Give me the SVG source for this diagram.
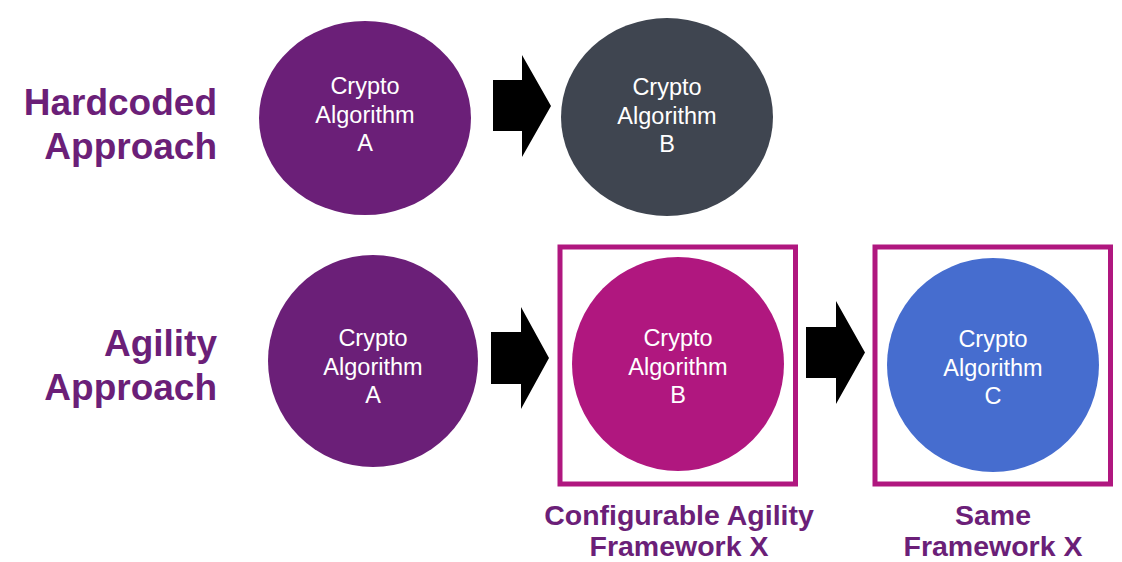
<svg xmlns="http://www.w3.org/2000/svg" width="1122" height="562" viewBox="0 0 1122 562">
  <style>
    .lbl { font-family: "Liberation Sans", Arial, sans-serif; font-weight: bold; fill: #6B1F78; }
    .side { font-size: 37px; text-anchor: end; }
    .bottom { font-size: 28.5px; text-anchor: middle; }
    .ct { font-family: "Liberation Sans", Arial, sans-serif; font-size: 23.5px; fill: #FFFFFF; text-anchor: middle; }
    .frame { fill: none; stroke: #B0177F; stroke-width: 5; }
    .arrow { fill: #000000; }
  </style>
  <rect width="1122" height="562" fill="#FFFFFF"/>

  <g id="label-hardcoded">
    <text class="lbl side" x="217" y="115">Hardcoded</text>
    <text class="lbl side" x="217" y="159">Approach</text>
  </g>
  <g id="label-agility">
    <text class="lbl side" x="217" y="356">Agility</text>
    <text class="lbl side" x="217" y="400">Approach</text>
  </g>

  <g id="frame-x">
    <rect class="frame" x="560" y="247" width="235.5" height="237"/>
    <text class="lbl bottom" x="679" y="525">Configurable Agility</text>
    <text class="lbl bottom" x="679" y="556">Framework X</text>
  </g>
  <g id="frame-same">
    <rect class="frame" x="875" y="247" width="235.5" height="237"/>
    <text class="lbl bottom" x="993" y="525">Same</text>
    <text class="lbl bottom" x="993" y="556">Framework X</text>
  </g>

  <g id="hard-a">
    <ellipse cx="365" cy="118" rx="106" ry="97" fill="#6B1F78"/>
    <text class="ct" x="365" y="94">Crypto</text>
    <text class="ct" x="365" y="122.5">Algorithm</text>
    <text class="ct" x="365" y="151">A</text>
  </g>
  <g id="hard-b">
    <ellipse cx="667" cy="117" rx="106" ry="99" fill="#3F4550"/>
    <text class="ct" x="667" y="95">Crypto</text>
    <text class="ct" x="667" y="123.5">Algorithm</text>
    <text class="ct" x="667" y="152">B</text>
  </g>
  <g id="agile-a">
    <ellipse cx="373" cy="361" rx="105" ry="106" fill="#6B1F78"/>
    <text class="ct" x="373" y="346">Crypto</text>
    <text class="ct" x="373" y="374.5">Algorithm</text>
    <text class="ct" x="373" y="403">A</text>
  </g>
  <g id="agile-b">
    <ellipse cx="678" cy="364" rx="106" ry="107" fill="#B0177F"/>
    <text class="ct" x="678" y="346">Crypto</text>
    <text class="ct" x="678" y="374.5">Algorithm</text>
    <text class="ct" x="678" y="403">B</text>
  </g>
  <g id="agile-c">
    <ellipse cx="993" cy="365" rx="106" ry="107" fill="#466DCF"/>
    <text class="ct" x="993" y="347">Crypto</text>
    <text class="ct" x="993" y="375.5">Algorithm</text>
    <text class="ct" x="993" y="404">C</text>
  </g>

  <g id="connectors">
    <polygon class="arrow" points="493,80 522,80 522,55 551,106 522,157 522,131 493,131"/>
    <polygon class="arrow" points="491,332 521,332 521,307 549,358 521,409 521,384 491,384"/>
    <polygon class="arrow" points="806,327 836,327 836,301 865,352.5 836,404 836,378 806,378"/>
  </g>
</svg>
